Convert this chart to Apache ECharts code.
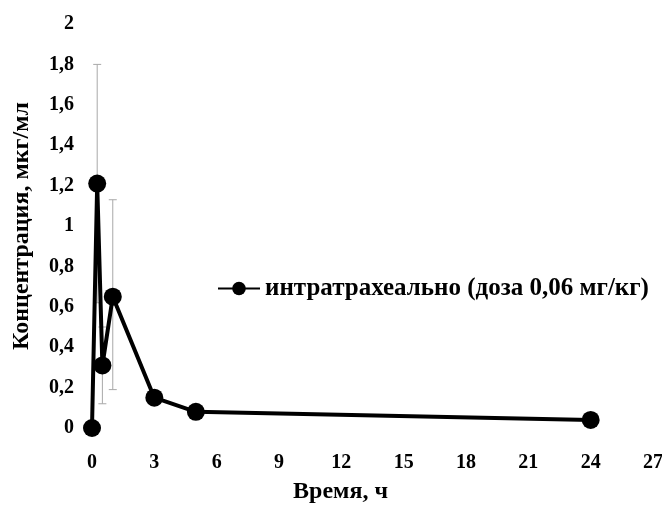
<!DOCTYPE html>
<html><head><meta charset="utf-8">
<script src="https://cdn.jsdelivr.net/npm/echarts@6/dist/echarts.min.js"></script>
<style>html,body{margin:0;padding:0;background:#fff}#c{width:662px;height:507px}</style>
</head><body><div id="c"></div>
<script>
const timeH = [0, 0.25, 0.5, 1, 3, 5, 24];
const concentration = [0, 1.21, 0.31, 0.65, 0.15, 0.08, 0.04];
const errUp = [0, 0.59, 0.19, 0.48, 0.02, 0.01, 0.01];
const errDown = [0, 0.59, 0.19, 0.46, 0.02, 0.01, 0.01];
const seriesName = 'интратрахеально (доза 0,06 мг/кг)';
const xTitle = 'Время, ч';
const yTitle = 'Концентрация, мкг/мл';

const font = '"Liberation Serif", "Times New Roman", serif';
const chart = echarts.init(document.getElementById('c'));
const errData = timeH.map((t, i) => [t, concentration[i] - errDown[i], concentration[i] + errUp[i]]);
chart.setOption({
  animation: false,
  backgroundColor: '#fff',
  grid: {left: 92, top: 24, width: 561, height: 404, containLabel: false, outerBoundsMode: 'none'},
  legend: {
    data: [seriesName],
    left: 212, top: 271,
    itemWidth: 42, itemHeight: 17,
    itemGap: 6,
    textStyle: {fontFamily: font, fontWeight: 'bold', fontSize: 25, color: '#000'}
  },
  xAxis: {
    type: 'value', min: 0, max: 27, interval: 3,
    axisLine: {show: false}, axisTick: {show: false}, splitLine: {show: false},
    axisLabel: {fontFamily: font, fontWeight: 'bold', fontSize: 20, color: '#000', margin: 25},
    name: xTitle, nameLocation: 'middle', nameGap: 52,
    nameTextStyle: {fontFamily: font, fontWeight: 'bold', fontSize: 24, color: '#000', padding: [0, 64, 0, 0]}
  },
  yAxis: {
    type: 'value', min: 0, max: 2, interval: 0.2,
    axisLine: {show: false}, axisTick: {show: false}, splitLine: {show: false},
    axisLabel: {fontFamily: font, fontWeight: 'bold', fontSize: 20, color: '#000', margin: 18,
      formatter: v => String(Math.round(v * 10) / 10).replace('.', ',')},
    name: yTitle, nameLocation: 'middle', nameGap: 58, nameRotate: 90,
    nameTextStyle: {fontFamily: font, fontWeight: 'bold', fontSize: 24, color: '#000'}
  },
  series: [
    {
      type: 'custom', name: 'err', z: 1, silent: true,
      data: errData,
      renderItem: (params, api) => {
        const x = api.value(0);
        const lo = api.coord([x, api.value(1)]);
        const hi = api.coord([x, api.value(2)]);
        const cw = 4;
        const st = {stroke: '#a8a8a8', lineWidth: 1};
        return {type: 'group', children: [
          {type: 'line', shape: {x1: lo[0], y1: lo[1], x2: hi[0], y2: hi[1]}, style: st},
          {type: 'line', shape: {x1: lo[0] - cw, y1: lo[1], x2: lo[0] + cw, y2: lo[1]}, style: st},
          {type: 'line', shape: {x1: hi[0] - cw, y1: hi[1], x2: hi[0] + cw, y2: hi[1]}, style: st}
        ]};
      }
    },
    {
      type: 'line', name: seriesName, z: 3,
      data: timeH.map((t, i) => [t, concentration[i]]),
      symbol: 'circle', symbolSize: 18,
      lineStyle: {color: '#000', width: 4},
      itemStyle: {color: '#000'}
    }
  ]
});
</script></body></html>
